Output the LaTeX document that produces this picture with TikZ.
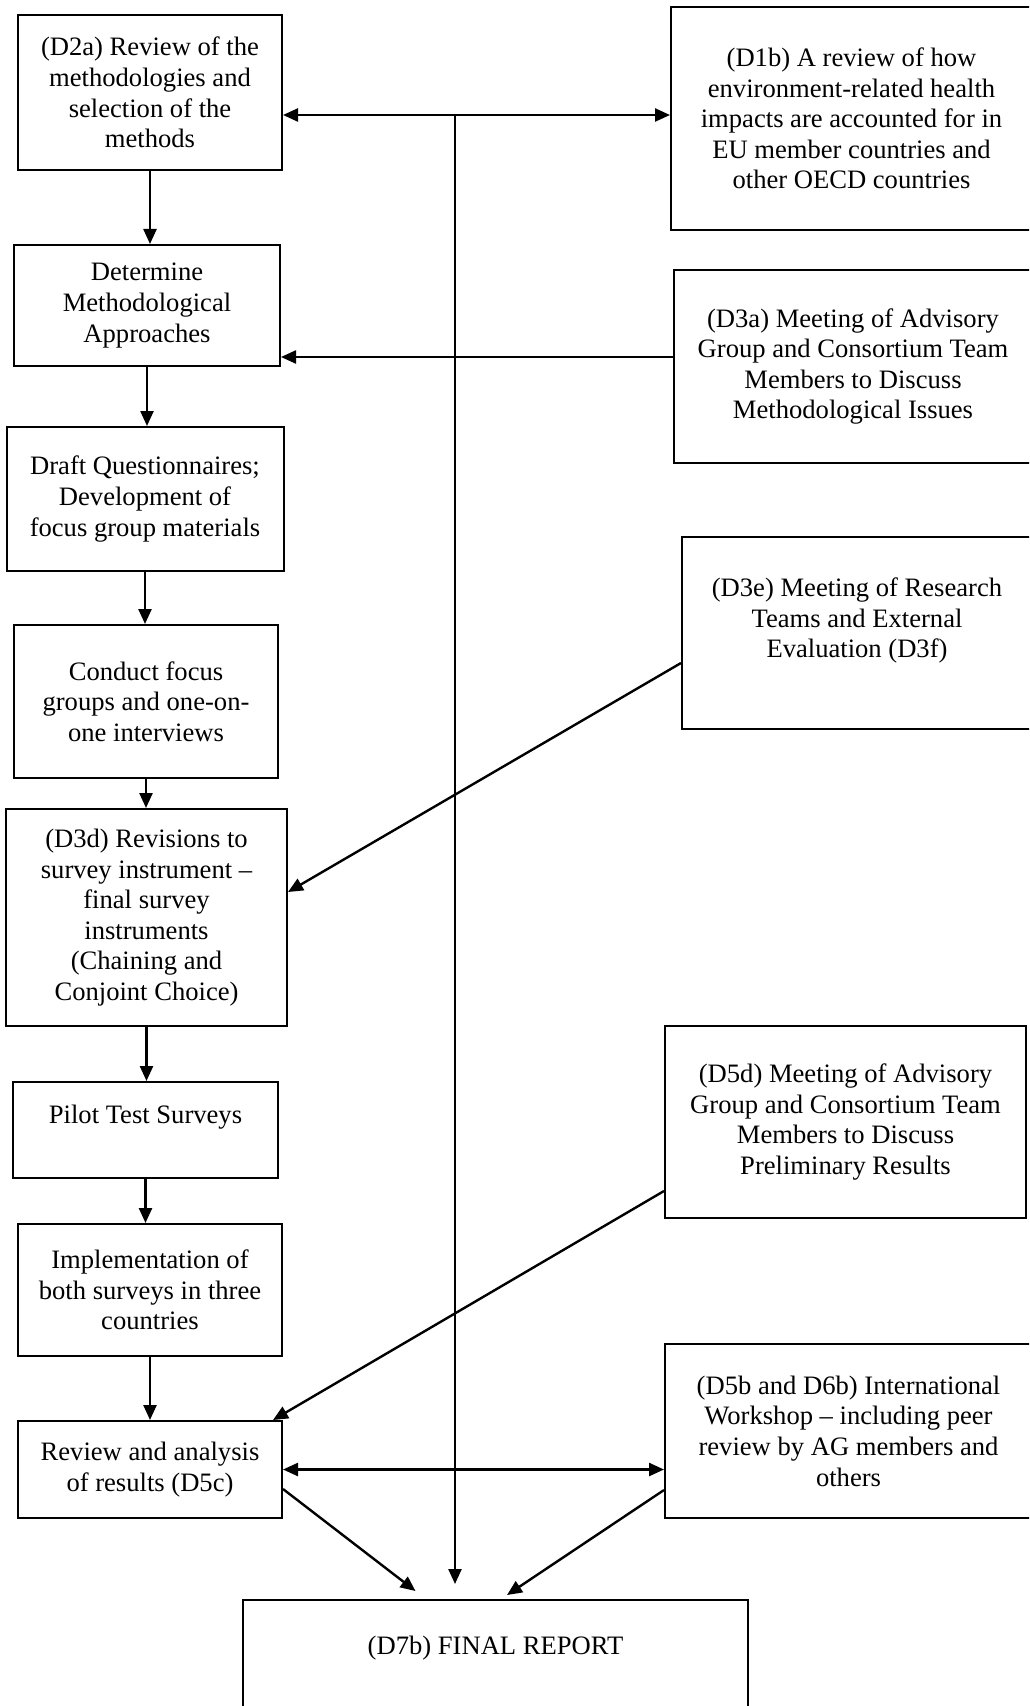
\documentclass[tikz,border=0pt]{standalone}
\usepackage{fontspec}
\setmainfont{Liberation Serif}
\usetikzlibrary{arrows.meta}

\begin{document}
\begin{tikzpicture}[x=0.5pt, y=-0.5pt,
  box/.style={draw, line width=1pt, align=center, inner sep=2pt, font=\fontsize{13.3}{15.3}\selectfont},
  arr/.style={-{Triangle[length=7.5pt, width=6.5pt]}, line width=1.2pt},
  dbl/.style={{Triangle[length=7.5pt, width=6.5pt]}-{Triangle[length=7.5pt, width=6.5pt]}, line width=1.2pt}
]
\useasboundingbox (0,0) rectangle (1029,1706);
\clip (0,0) rectangle (1029,1706);
\node[box, minimum width=132pt, minimum height=77.5pt] (d2a) at (150,92.5) {(D2a) Review of the\\methodologies and\\selection of the\\methods};
\node[box, minimum width=180.5pt, minimum height=111.5pt] (d1b) at (851.5,118.5) {(D1b) A review of how\\environment-related health\\impacts are accounted for in\\EU member countries and\\other OECD countries};
\node[box, minimum width=133pt, minimum height=60.5pt] (det) at (147,305.5) {Determine\\Methodological\\Approaches};
\node[box, minimum width=179pt, minimum height=96.5pt] (d3a) at (853,366.5) {(D3a) Meeting of Advisory\\Group and Consortium Team\\Members to Discuss\\Methodological Issues};
\node[box, minimum width=138.5pt, minimum height=72pt] (draft) at (145,499) {Draft Questionnaires;\\Development of\\focus group materials};
\node[box, minimum width=175pt, minimum height=96pt] (d3e) at (857,633) {(D3e) Meeting of Research\\Teams and External\\Evaluation (D3f)\\ \mbox{}};
\node[box, minimum width=132pt, minimum height=76.5pt] (conduct) at (146,701.5) {Conduct focus\\groups and one-on-\\one interviews};
\node[box, minimum width=140.5pt, minimum height=108.5pt] (d3d) at (146.5,917.5) {(D3d) Revisions to\\survey instrument –\\final survey\\instruments\\(Chaining and\\Conjoint Choice)};
\node[box, minimum width=132.5pt, minimum height=48pt] (pilot) at (145.5,1130) {Pilot Test Surveys\\ \mbox{}};
\node[box, minimum width=132pt, minimum height=66pt] (impl) at (150,1290) {Implementation of\\both surveys in three\\countries};
\node[box, minimum width=132pt, minimum height=48.5pt] (review) at (150,1469.5) {Review and analysis\\of results (D5c)};
\node[box, minimum width=180.5pt, minimum height=96pt] (d5d) at (845.5,1122) {(D5d) Meeting of Advisory\\Group and Consortium Team\\Members to Discuss\\Preliminary Results};
\node[box, minimum width=183.5pt, minimum height=87pt] (d5b) at (848.5,1431) {(D5b and D6b) International\\Workshop – including peer\\review by AG members and\\others};
\node[box, minimum width=252.5pt, minimum height=76pt] (final) at (495.5,1676) {(D7b) FINAL REPORT\\ \mbox{}\\ \mbox{}};
\coordinate (hub) at (455,115);
\coordinate (d3aw) at ([yshift=4.75pt]d3a.west);
\draw[dbl] (d2a.east |- hub) -- (d1b.west |- hub);
\draw[arr, shorten >=7.5pt] (hub) -- (hub |- final.north);
\draw[arr] (d3aw) -- (det.east |- d3aw);
\draw[arr] ([yshift=-15pt]d3e.west) -- ([yshift=12.75pt]d3d.east);
\draw[arr] ([yshift=-34.5pt]d5d.west) -- ([xshift=-5pt]review.north east);
\draw[dbl] (review.east) -- (d5b.west |- review.east);
\draw[arr] ([yshift=-9.75pt]review.east) -- ([xshift=-40pt, yshift=4pt]final.north);
\draw[arr] ([yshift=-29.5pt]d5b.west) -- ([xshift=5.75pt, yshift=2pt]final.north);
\draw[arr] (d2a.south) -- (d2a.south |- det.north);
\draw[arr] (det.south) -- (det.south |- draft.north);
\draw[arr] (draft.south) -- (draft.south |- conduct.north);
\draw[arr] (conduct.south) -- (conduct.south |- d3d.north);
\draw[arr] (d3d.south) -- (d3d.south |- pilot.north);
\draw[arr] (pilot.south) -- (pilot.south |- impl.north);
\draw[arr] (impl.south) -- (impl.south |- review.north);
\end{tikzpicture}
\end{document}
